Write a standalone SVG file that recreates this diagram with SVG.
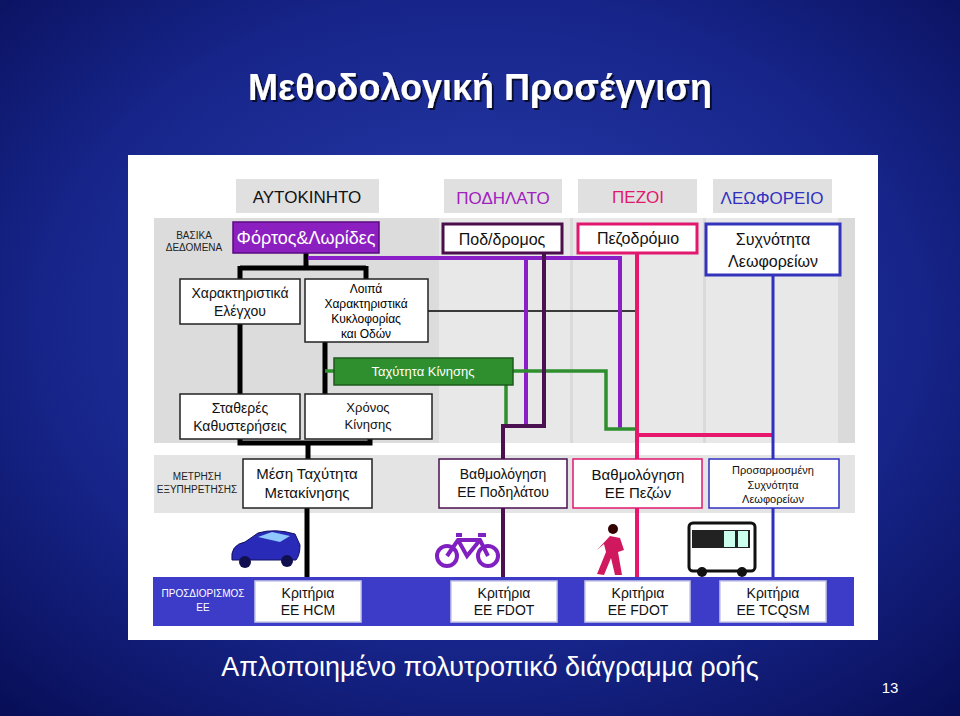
<svg xmlns="http://www.w3.org/2000/svg" width="960" height="716" viewBox="0 0 960 716">
<defs>
<radialGradient id="bg" cx="0.5" cy="0.45" r="0.75">
<stop offset="0" stop-color="#2a3fb0"/><stop offset="0.6" stop-color="#17258a"/><stop offset="1" stop-color="#070d55"/>
</radialGradient>
<filter id="sh" x="-5%" y="-20%" width="110%" height="140%"><feDropShadow dx="2" dy="2" stdDeviation="0.5" flood-color="#000" flood-opacity="0.7"/></filter>
<style>
text{font-family:"Liberation Sans",Arial,sans-serif;text-anchor:middle}
.hd{fill:#e0e0e0}
.box{fill:#fff;stroke:#222;stroke-width:1.5}
.t14{font-size:14px;fill:#111}
.t15{font-size:15px;fill:#111}
.t16{font-size:16px;fill:#111}
.sm{font-size:10px;fill:#222}
.kr{fill:#fff;stroke:#c8c8e8;stroke-width:1.5}
.ln{fill:none}
</style>
</defs>
<rect width="960" height="716" fill="url(#bg)"/>
<text x="480" y="100" font-size="36" font-weight="bold" fill="#fff" filter="url(#sh)">Μεθοδολογική Προσέγγιση</text>
<rect x="128" y="155" width="750" height="485" fill="#fff"/>
<!-- gray column backgrounds -->
<rect x="154" y="218" width="285" height="225" fill="#dcdcdc"/>
<rect x="439" y="218" width="131" height="225" fill="#e8e8e8"/>
<rect x="570" y="218" width="3" height="225" fill="#dadada"/>
<rect x="573" y="218" width="130" height="225" fill="#e8e8e8"/>
<rect x="703" y="218" width="3" height="225" fill="#dadada"/>
<rect x="706" y="218" width="132" height="225" fill="#e8e8e8"/>
<rect x="838" y="218" width="17" height="225" fill="#dadada"/>
<rect x="154" y="455" width="701" height="58" fill="#e4e4e4"/>
<rect x="153" y="577" width="701" height="49" fill="#3c3cc8"/>
<!-- headers -->
<g id="h-car"><rect class="hd" x="236" y="179" width="143" height="34"/><text x="307" y="203" font-size="17" fill="#111">ΑΥΤΟΚΙΝΗΤΟ</text></g>
<g id="h-bike"><rect class="hd" x="444" y="179" width="118" height="34"/><text x="503" y="204" font-size="17" fill="#a020c0">ΠΟΔΗΛΑΤΟ</text></g>
<g id="h-ped"><rect class="hd" x="578" y="179" width="119" height="34"/><text x="638" y="203" font-size="17" fill="#e0186e">ΠΕΖΟΙ</text></g>
<g id="h-bus"><rect class="hd" x="713" y="179" width="119" height="34"/><text x="772" y="204" font-size="17" fill="#3030c0">ΛΕΩΦΟΡΕΙΟ</text></g>
<text class="sm" x="194" y="239">ΒΑΣΙΚΑ</text><text class="sm" x="194" y="251">ΔΕΔΟΜΕΝΑ</text>
<text class="sm" x="197" y="480">ΜΕΤΡΗΣΗ</text><text class="sm" x="197" y="493">ΕΞΥΠΗΡΕΤΗΣΗΣ</text>
<text x="203" y="597" font-size="10" fill="#fff">ΠΡΟΣΔΙΟΡΙΣΜΟΣ</text><text x="203" y="611" font-size="10" fill="#fff">ΕΕ</text>
<!-- connectors -->
<g id="connectors" class="ln" stroke-linejoin="miter">
<path d="M306 253V268M240 268H366M240 266V279M366 266V279" stroke="#000" stroke-width="5"/>
<path d="M240 324V394M325 342V394M240 439V443H370V439M308 443V459M307 508V577" stroke="#000" stroke-width="5"/>
<path d="M428 311H637" stroke="#000" stroke-width="1.5"/>
<path d="M308 258H620V429M526 258V425" stroke="#8a1fc8" stroke-width="4"/>
<path d="M325 371H334M513 371H606V429H637M506 385V425" stroke="#2f8f2f" stroke-width="3.5"/>
<path d="M544 253V426H503V577" stroke="#4a1050" stroke-width="4"/>
<path d="M637 253V577M637 435H773" stroke="#e8176e" stroke-width="4"/>
<path d="M773 275V577" stroke="#3030c0" stroke-width="3"/>
</g>
<!-- nodes -->
<g id="n-fortos"><rect x="233" y="222" width="146" height="31" fill="#8b1fc0" stroke="#5a0a80" stroke-width="1.5"/><text x="306" y="244" font-size="18" fill="#fff">Φόρτος&amp;Λωρίδες</text></g>
<g id="n-pod"><rect x="443" y="224" width="119" height="29" fill="#fff" stroke="#4a0f4a" stroke-width="3"/><text x="502" y="245" class="t16">Ποδ/δρομος</text></g>
<g id="n-pez"><rect x="578" y="224" width="119" height="29" fill="#fff" stroke="#e0196e" stroke-width="3"/><text x="638" y="244" class="t16">Πεζοδρόμιο</text></g>
<g id="n-syx"><rect x="706" y="224" width="134" height="51" fill="#fff" stroke="#3333bb" stroke-width="3"/><text x="773" y="245" class="t16">Συχνότητα</text><text x="773" y="267" class="t16">Λεωφορείων</text></g>
<g id="n-xar"><rect class="box" x="180" y="279" width="120" height="45"/><text x="240" y="298" class="t14">Χαρακτηριστικά</text><text x="240" y="316" class="t14">Ελέγχου</text></g>
<g id="n-loipa"><rect class="box" x="305" y="279" width="123" height="63"/><text x="366" y="293" font-size="12">Λοιπά</text><text x="366" y="308" font-size="12">Χαρακτηριστικά</text><text x="366" y="323" font-size="12">Κυκλοφορίας</text><text x="366" y="338" font-size="12">και Οδών</text></g>
<g id="n-tax"><rect x="334" y="358" width="179" height="27" fill="#2f8f2f" stroke="#1d5a1d" stroke-width="1.5"/><text x="423" y="376" font-size="13" fill="#fff">Ταχύτητα Κίνησης</text></g>
<g id="n-stath"><rect class="box" x="180" y="394" width="120" height="45"/><text x="240" y="413" class="t14">Σταθερές</text><text x="240" y="431" class="t14">Καθυστερήσεις</text></g>
<g id="n-xron"><rect class="box" x="305" y="394" width="127" height="45"/><text x="368" y="412" font-size="13" fill="#111">Χρόνος</text><text x="368" y="429" font-size="13" fill="#111">Κίνησης</text></g>
<g id="n-mesi"><rect class="box" x="243" y="459" width="129" height="49"/><text x="307" y="479" class="t15">Μέση Ταχύτητα</text><text x="307" y="498" class="t15">Μετακίνησης</text></g>
<g id="n-bpod"><rect x="439" y="459" width="128" height="49" fill="#fff" stroke="#4a1050" stroke-width="1.5"/><text x="503" y="479" class="t14">Βαθμολόγηση</text><text x="503" y="497" class="t14">ΕΕ Ποδηλάτου</text></g>
<g id="n-bpez"><rect x="573" y="459" width="129" height="49" fill="#fff" stroke="#e0196e" stroke-width="1.5"/><text x="638" y="480" class="t15">Βαθμολόγηση</text><text x="638" y="498" class="t15">ΕΕ Πεζών</text></g>
<g id="n-pros"><rect x="709" y="459" width="130" height="49" fill="#fff" stroke="#3030c0" stroke-width="1.5"/><text x="773" y="474" font-size="11" fill="#111">Προσαρμοσμένη</text><text x="773" y="489" font-size="11" fill="#111">Συχνότητα</text><text x="773" y="503" font-size="11" fill="#111">Λεωφορείων</text></g>
<g id="n-k1"><rect class="kr" x="255" y="581" width="106" height="41"/><text x="308" y="598" class="t14">Κριτήρια</text><text x="308" y="615" class="t14">ΕΕ HCM</text></g>
<g id="n-k2"><rect class="kr" x="451" y="581" width="106" height="41"/><text x="504" y="598" class="t14">Κριτήρια</text><text x="504" y="615" class="t14">ΕΕ FDOT</text></g>
<g id="n-k3"><rect class="kr" x="585" y="581" width="105" height="41"/><text x="638" y="598" class="t14">Κριτήρια</text><text x="638" y="615" class="t14">ΕΕ FDOT</text></g>
<g id="n-k4"><rect class="kr" x="720" y="581" width="106" height="41"/><text x="773" y="598" class="t14">Κριτήρια</text><text x="773" y="615" class="t14">ΕΕ TCQSM</text></g>
<!-- icons -->
<g id="car"><path d="M232 560 Q230 545 245 542 L258 533 Q275 528 295 534 L300 545 Q300 555 296 560 Z" fill="#2a2ab8" stroke="#101060"/><path d="M258 537 L272 532 L290 536 L280 542 Z" fill="#8fc8ff"/><circle cx="245" cy="562" r="6" fill="#101050"/><circle cx="287" cy="561" r="6" fill="#101050"/></g>
<g id="bike" fill="none" stroke="#8020c0" stroke-width="4"><circle cx="447" cy="556" r="10"/><circle cx="488" cy="556" r="10"/><path d="M447 556 L458 540 H480 L488 556 M458 540 L467 556 L480 540 M456 535 H462 M478 535 H486"/></g>
<g id="ped"><circle cx="613" cy="529" r="5" fill="#300"/><path d="M610 536 L620 538 L624 550 L618 552 L622 575 L615 575 L611 558 L604 575 L597 574 L606 552 L604 544 L597 550 Z" fill="#d0185e"/></g>
<g id="bus"><rect x="689" y="523" width="66" height="48" rx="4" fill="#fff" stroke="#111" stroke-width="3"/><path d="M692 530 H750 V548 H692 Z" fill="#222"/><path d="M738 531 H748 V547 H738 Z M724 531 H735 V547 H724 Z" fill="#cfe"/><circle cx="702" cy="572" r="5" fill="#111"/><circle cx="742" cy="572" r="5" fill="#111"/></g>
<text x="490" y="676" font-size="27" fill="#fff">Απλοποιημένο πολυτροπικό διάγραμμα ροής</text>
<text x="890" y="693" font-size="15" fill="#fff">13</text>
</svg>
